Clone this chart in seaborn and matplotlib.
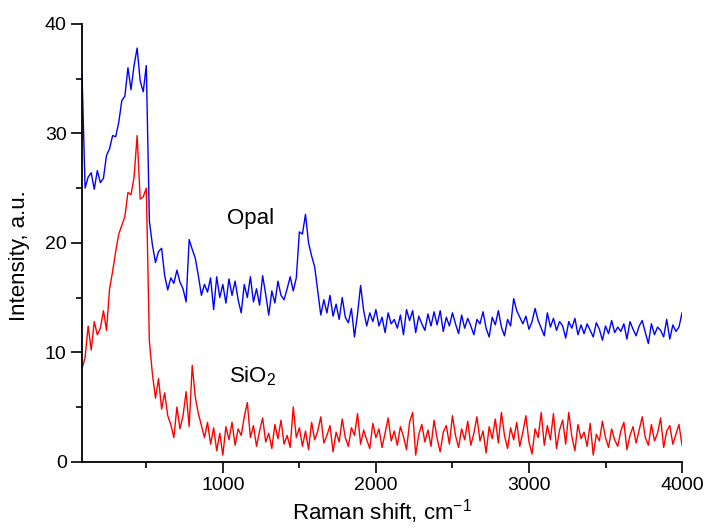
import numpy as np
import pandas as pd
import matplotlib
matplotlib.use("Agg")
import matplotlib.pyplot as plt
from matplotlib.ticker import MultipleLocator
import seaborn as sns

# Raman shift grid (cm^-1)
raman_shift = np.arange(80, 4001, 20)

opal = [
    35.5, 25.0, 26.0, 26.4, 24.9, 26.6, 25.5, 25.9, 28.0, 28.6,   # 80-260
    29.8, 29.7, 31.0, 33.0, 33.4, 36.0, 34.0, 36.2, 37.8, 34.8,   # 280-460
    33.8, 36.2, 22.0, 19.8, 18.2, 19.2, 19.5, 17.0, 15.7, 16.8,   # 480-660
    16.3, 17.5, 16.4, 15.8, 14.6, 20.3, 19.4, 18.6, 17.0, 15.2,   # 680-860
    16.2, 15.5, 16.8, 13.9, 16.9, 15.0, 16.2, 14.5, 16.7, 15.2,   # 880-1060
    16.5, 14.8, 13.6, 16.2, 15.0, 16.9, 14.6, 15.8, 14.3, 17.0,   # 1080-1260
    15.3, 13.4, 15.6, 14.5, 16.5, 15.2, 14.8, 15.8, 16.9, 15.6,   # 1280-1460
    16.8, 21.0, 20.8, 22.6, 20.0, 18.8, 17.8, 15.6, 13.4, 14.8,   # 1480-1660
    13.6, 15.2, 13.3, 14.4, 13.0, 15.0, 13.2, 12.7, 14.0, 11.4,   # 1680-1860
    13.5, 16.1, 13.8, 12.4, 13.6, 12.8, 13.9, 12.4, 13.2, 11.8,   # 1880-2060
    13.6, 12.6, 13.0, 12.2, 13.4, 11.6, 13.9, 12.9, 13.8, 11.8,   # 2080-2260
    13.3, 12.6, 12.0, 13.5, 12.4, 13.7, 12.5, 13.8, 11.9, 13.2,   # 2280-2460
    12.4, 13.6, 12.6, 11.7, 13.4, 12.2, 13.1, 12.4, 11.6, 13.0,   # 2480-2660
    12.6, 13.7, 12.2, 11.4, 13.2, 12.5, 13.8, 12.3, 11.5, 13.0,   # 2680-2860
    12.4, 14.9, 13.8, 13.2, 12.6, 13.3, 12.1, 12.8, 14.0, 12.9,   # 2880-3060
    12.2, 11.5, 13.6, 12.3, 13.1, 12.0, 12.8, 12.4, 11.3, 12.8,   # 3080-3260
    12.2, 13.1, 11.6, 12.5, 11.7, 12.6, 12.0, 11.4, 12.7, 12.1,   # 3280-3460
    11.1, 12.4, 11.7, 12.9, 11.8, 12.3, 11.9, 12.6, 11.2, 12.8,   # 3480-3660
    12.1, 11.5, 12.4, 12.9, 11.8, 10.8, 12.6, 11.6, 12.3, 12.0,   # 3680-3860
    11.4, 13.0, 11.2, 12.5, 11.9, 12.3, 13.6,                     # 3880-4000
]

sio2 = [
    8.5, 9.5, 12.4, 10.2, 12.8, 11.6, 12.2, 13.8, 12.0, 15.8,     # 80-260
    17.4, 19.2, 20.8, 21.6, 22.4, 24.6, 24.4, 26.0, 29.8, 24.0,   # 280-460
    24.2, 25.0, 11.0, 8.0, 5.8, 7.6, 4.8, 6.3, 4.2, 3.4,          # 480-660
    2.2, 5.0, 3.0, 4.2, 6.4, 3.2, 8.8, 5.9, 4.4, 3.3,             # 680-860
    2.2, 3.6, 1.6, 3.1, 1.0, 2.6, 0.6, 3.2, 2.0, 3.6,             # 880-1060
    1.5, 3.0, 2.4, 4.1, 5.4, 2.2, 3.3, 1.4, 2.8, 4.0,             # 1080-1260
    1.8, 2.6, 1.2, 3.4, 2.1, 3.8, 1.6, 2.4, 1.3, 5.0,             # 1280-1460
    2.2, 3.1, 1.4, 2.8, 1.1, 3.6, 2.0, 2.8, 4.1, 1.7,             # 1480-1660
    2.4, 3.3, 0.9, 2.7, 1.8, 3.9, 2.2, 1.4, 3.1, 2.4,             # 1680-1860
    4.4, 1.6, 2.9, 2.0, 1.2, 3.5, 2.2, 3.0, 1.3, 2.6,             # 1880-2060
    4.0, 1.9, 2.8, 1.5, 3.2, 2.3, 1.1, 3.6, 4.5, 0.6,             # 2080-2260
    2.5, 3.4, 1.8, 2.9, 1.4, 3.8, 2.1, 0.9, 2.7, 3.3,             # 2280-2460
    1.6, 4.2, 2.4, 1.3, 3.0, 2.0, 3.7, 1.5, 2.6, 4.1,             # 2480-2660
    1.9, 2.8, 0.8, 3.2, 2.1, 3.9, 1.7, 4.5, 2.4, 1.2,             # 2680-2860
    3.1, 2.0, 3.6, 1.4, 2.7, 4.2, 1.8, 0.7, 3.0, 2.2,             # 2880-3060
    4.5, 1.5, 3.3, 2.0, 4.4, 1.2, 2.9, 3.8, 1.6, 4.5,             # 3080-3260
    2.3, 1.0, 3.4, 2.1, 2.7, 1.4, 3.5, 0.6, 2.5, 1.9,             # 3280-3460
    3.7, 2.2, 1.3, 3.0, 2.0, 1.4, 2.8, 3.6, 1.1, 2.4,             # 3480-3660
    3.2, 1.7, 2.9, 4.1, 2.2, 1.5, 3.4, 1.9, 2.6, 4.0,             # 3680-3860
    1.3, 2.8, 3.3, 1.6, 2.5, 3.4, 1.5,                            # 3880-4000
]

series_names = ["Opal", "SiO$_2$"]
series_colors = ["#0000FF", "#FF0000"]

df = pd.DataFrame({
    "shift": np.concatenate([raman_shift, raman_shift]),
    "intensity": np.concatenate([opal, sio2]),
    "sample": ["Opal"] * len(raman_shift) + ["SiO2"] * len(raman_shift),
})

sns.set_style("ticks")
plt.rcParams["font.family"] = ["Liberation Sans", "DejaVu Sans"]
plt.rcParams["mathtext.default"] = "regular"
plt.rcParams["text.color"] = "black"
plt.rcParams["axes.labelcolor"] = "black"
plt.rcParams["xtick.color"] = "black"
plt.rcParams["ytick.color"] = "black"

fig = plt.figure(figsize=(7.04, 5.28), dpi=100)
ax = fig.add_axes([0.1165, 0.1256, 0.8523, 0.8290])

sns.lineplot(data=df, x="shift", y="intensity", hue="sample",
             palette={"Opal": series_colors[0], "SiO2": series_colors[1]},
             linewidth=1.0, legend=False, ax=ax, estimator=None)

ax.set_xlim(80, 4000)
ax.set_ylim(0, 40)
ax.xaxis.set_major_locator(MultipleLocator(1000))
ax.xaxis.set_minor_locator(MultipleLocator(500))
ax.yaxis.set_major_locator(MultipleLocator(10))
ax.yaxis.set_minor_locator(MultipleLocator(5))

for side in ["top", "right"]:
    ax.spines[side].set_visible(False)
for side in ["left", "bottom"]:
    ax.spines[side].set_linewidth(1.3)
    ax.spines[side].set_color("black")

ax.tick_params(axis="both", which="major", length=8, width=1.2,
               labelsize=14, direction="out", pad=3,
               colors="black", labelcolor="black")
ax.tick_params(axis="both", which="minor", length=4.5, width=1.2,
               direction="out", colors="black")

ax.set_xlabel("Raman shift, cm$^{-1}$", fontsize=16)
ax.set_ylabel("Intensity, a.u.", fontsize=16)
ax.xaxis.set_label_coords(0.5, -0.082)
ax.yaxis.set_label_coords(-0.087, 0.47)

ax.text(1026, 21.7, series_names[0], fontsize=16, va="baseline", ha="left")
ax.text(1043, 7.2, series_names[1], fontsize=16, va="baseline", ha="left")

fig.savefig("out.png", dpi=100)
